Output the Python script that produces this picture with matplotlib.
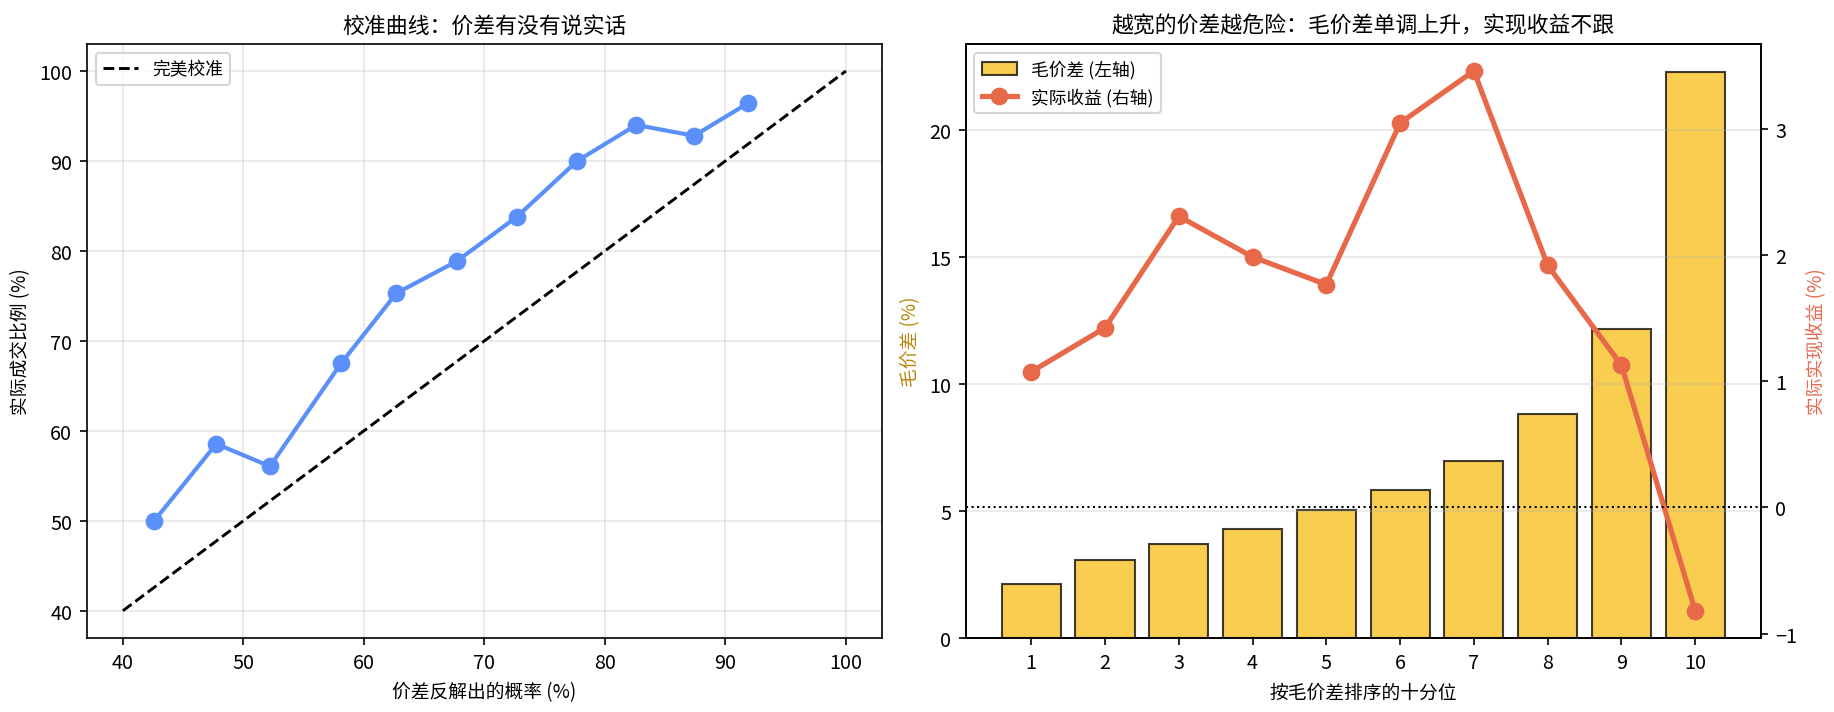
import numpy as np
import matplotlib
matplotlib.use("Agg")
import matplotlib.pyplot as plt

plt.rcParams['font.family'] = ['Noto Sans CJK SC', 'DejaVu Sans']

# 校准曲线数据
prob_implied = [42.6, 47.75, 52.2, 58.1, 62.7, 67.7, 72.7, 77.7, 82.6, 87.4, 91.85]
actual_rate = [50.0, 58.55, 56.05, 67.5, 75.3, 78.85, 83.8, 90.0, 94.0, 92.8, 96.4]
perfect_line = [40, 100]

# 十分位数据
deciles = [1, 2, 3, 4, 5, 6, 7, 8, 9, 10]
gross_spread = [2.11, 3.06, 3.69, 4.29, 5.02, 5.83, 6.95, 8.81, 12.15, 22.27]
realized_ret = [1.075, 1.423, 2.307, 1.985, 1.766, 3.046, 3.458, 1.918, 1.127, -0.818]

blue = '#5B8FF9'
red = '#E8684A'
gold = '#F6BD16'

fig = plt.figure(figsize=(12.2333, 4.7533), dpi=150)
ax1 = fig.add_axes([0.0473, 0.1042, 0.4334, 0.8327])
ax = fig.add_axes([0.5262, 0.1042, 0.4334, 0.8327])

# 左图
ax1.plot(prob_implied, actual_rate, 'o-', color=blue, lw=2, ms=7.5)
ax1.plot(perfect_line, perfect_line, 'k--', lw=1.4, label='完美校准')
ax1.set_xlabel('价差反解出的概率 (%)', fontsize=9)
ax1.set_ylabel('实际成交比例 (%)', fontsize=9)
ax1.set_title('校准曲线：价差有没有说实话', fontsize=10.5)
ax1.legend(loc='upper left', fontsize=8.5)
ax1.grid(True, alpha=0.3)
ax1.tick_params(labelsize=9.5)

# 右图
bars = ax.bar(deciles, gross_spread, width=0.8, color=gold, edgecolor='black',
              alpha=0.75, label='毛价差 (左轴)')
ax.set_xlabel('按毛价差排序的十分位', fontsize=9)
ax.set_ylabel('毛价差 (%)', color='#B8860B', fontsize=9)
ax.set_xticks(deciles)
ax.grid(axis='y', alpha=0.3)
ax.tick_params(labelsize=9.5)

ax2 = ax.twinx()
line, = ax2.plot(deciles, realized_ret, 'o-', color=red, lw=2.5, ms=7.5,
                 label='实际收益 (右轴)')
ax2.axhline(0, color='black', lw=1, ls=':')
ax2.set_ylabel('实际实现收益 (%)', color=red, fontsize=9)
ax2.tick_params(labelsize=9.5)
ax2.legend([bars, line], ['毛价差 (左轴)', '实际收益 (右轴)'], loc='upper left', fontsize=8.5)
ax.set_title('越宽的价差越危险：毛价差单调上升，实现收益不跟', fontsize=10.5)

fig.savefig('out.png', dpi=150)
